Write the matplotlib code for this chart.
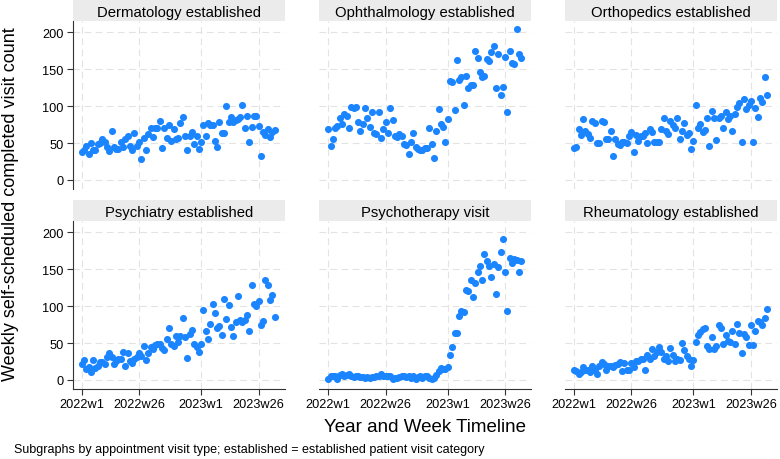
import numpy as np
import matplotlib.pyplot as plt

plt.rcParams['font.family'] = ['Liberation Sans', 'DejaVu Sans']

# weekly counts, 2022w1 .. 2023w33 (Stata weekly index 0..84)
dermatology = [38, 41, 46, 35, 50, 41, 41, 49, 50, 55, 51, 44, 39, 67, 44, 42, 42, 52, 44, 55,
               59, 46, 41, 64, 46, 52, 29, 57, 40, 62, 71, 58, 71, 70, 80, 43, 71, 57, 74, 53,
               69, 56, 57, 77, 85, 60, 40, 60, 65, 49, 60, 42, 52, 75, 60, 77, 75, 74, 53, 45,
               79, 63, 63, 100, 79, 85, 78, 81, 83, 85, 102, 71, 86, 52, 72, 86, 86, 73, 32, 65,
               61, 69, 58, 65, 68]
ophthalmology = [69, 46, 56, 70, 73, 84, 76, 89, 87, 71, 99, 98, 99, 78, 66, 76, 97, 84, 72, 92,
                 63, 62, 92, 57, 69, 78, 64, 97, 81, 60, 58, 62, 60, 49, 47, 35, 51, 64, 45, 42,
                 40, 40, 43, 43, 71, 49, 30, 67, 96, 76, 72, 52, 83, 134, 133, 95, 163, 136, 139, 102,
                 141, 124, 129, 129, 174, 165, 146, 139, 141, 164, 161, 173, 182, 125, 171, 115, 126, 167, 92, 174,
                 159, 157, 204, 171, 165]
orthopedics = [43, 45, 69, 61, 83, 67, 62, 57, 80, 77, 50, 50, 80, 78, 56, 56, 67, 33, 56, 49,
               47, 51, 52, 50, 59, 65, 38, 61, 53, 60, 60, 64, 50, 69, 65, 52, 52, 52, 69, 84,
               67, 62, 80, 74, 71, 84, 56, 67, 77, 61, 63, 42, 53, 102, 71, 76, 65, 68, 84, 46,
               94, 84, 54, 84, 87, 70, 92, 83, 87, 67, 89, 99, 104, 51, 109, 96, 101, 107, 52, 97,
               85, 111, 105, 139, 115]
psychiatry = [22, 27, 15, 17, 11, 27, 16, 19, 24, 24, 21, 31, 36, 31, 22, 26, 29, 29, 38, 19,
              36, 26, 23, 29, 31, 37, 33, 46, 27, 36, 45, 42, 47, 49, 49, 43, 40, 55, 71, 49,
              46, 60, 51, 60, 84, 58, 30, 62, 68, 49, 44, 38, 49, 95, 66, 56, 76, 103, 91, 71,
              73, 61, 109, 82, 101, 72, 60, 79, 114, 81, 78, 81, 88, 67, 129, 103, 100, 107, 75, 80,
              136, 129, 108, 115, 85]
psychotherapy = [1, 5, 5, 5, 2, 7, 8, 5, 7, 8, 5, 4, 5, 6, 4, 4, 3, 4, 3, 4,
                 4, 5, 6, 8, 6, 6, 6, 5, 2, 3, 3, 4, 5, 5, 4, 5, 3, 5, 2, 4,
                 5, 3, 5, 6, 3, 2, 3, 7, 12, 16, 15, 15, 18, 34, 44, 63, 64, 87, 93, 92,
                 122, 121, 135, 112, 132, 146, 155, 135, 170, 161, 154, 139, 157, 116, 153, 173, 191, 146, 94, 165,
                 158, 164, 162, 146, 161]
rheumatology = [13, 12, 8, 11, 18, 14, 13, 11, 19, 13, 8, 19, 25, 21, 14, 19, 19, 18, 20, 21,
                24, 12, 23, 13, 13, 23, 18, 26, 26, 28, 28, 14, 34, 28, 42, 33, 38, 45, 38, 29,
                33, 26, 43, 34, 26, 28, 27, 50, 40, 33, 28, 19, 27, 51, 61, 65, 69, 70, 46, 42,
                58, 42, 46, 75, 71, 49, 61, 53, 51, 67, 49, 76, 64, 36, 62, 58, 47, 75, 47, 66,
                80, 78, 75, 84, 96]

titles = ['Dermatology established', 'Ophthalmology established', 'Orthopedics established',
          'Psychiatry established', 'Psychotherapy visit', 'Rheumatology established']
series = [dermatology, ophthalmology, orthopedics, psychiatry, psychotherapy, rheumatology]
week_ticks = [0, 25, 52, 77]
week_labels = ['2022w1', '2022w26', '2023w1', '2023w26']
y_ticks = [0, 50, 100, 150, 200]

W, H = 780, 460
fig = plt.figure(figsize=(W / 100, H / 100), dpi=100)

col_left = [72.7, 319.3, 565]
row_top = [22, 222]
pw, ph, hh = 212, 168, 21

for k, (title, vals) in enumerate(zip(titles, series)):
    r, c = divmod(k, 3)
    x0, y0 = col_left[c], row_top[r]
    ax = fig.add_axes([x0 / W, 1 - (y0 + ph) / H, pw / W, ph / H])
    ax.scatter(np.arange(len(vals)), vals, s=26, color='#1a85ff', linewidths=0, zorder=3)
    ax.set_xlim(-3.9, 88.4)
    ax.set_ylim(-12.2, 215.3)
    ax.set_xticks(week_ticks)
    ax.set_yticks(y_ticks)
    ax.grid(True, color='#e3e3e3', linestyle=(0, (6, 4)), linewidth=0.8, zorder=0)
    for s in ax.spines.values():
        s.set_visible(False)
    ax.tick_params(length=4.5, width=0.8, color='#333333', labelsize=9.2, pad=2)
    if c == 0:
        ax.spines['left'].set_visible(True)
        ax.spines['left'].set_color('#333333')
        ax.spines['left'].set_linewidth(0.8)
    else:
        ax.tick_params(left=False, labelleft=False)
    if r == 1:
        ax.spines['bottom'].set_visible(True)
        ax.spines['bottom'].set_color('#333333')
        ax.spines['bottom'].set_linewidth(0.8)
        ax.set_xticklabels(week_labels)
    else:
        ax.tick_params(bottom=False, labelbottom=False)

    hax = fig.add_axes([x0 / W, 1 - y0 / H, pw / W, hh / H])
    hax.set_facecolor('#ebebeb')
    hax.set_xticks([])
    hax.set_yticks([])
    for s in hax.spines.values():
        s.set_visible(False)
    hax.text(0.5, 0.45, title, ha='center', va='center', fontsize=10.7, transform=hax.transAxes)

fig.text(11 / W, 1 - 204 / H, 'Weekly self-scheduled completed visit count', rotation=90,
         ha='center', va='center', fontsize=13)
fig.text(425 / W, 1 - 428 / H, 'Year and Week Timeline', ha='center', va='center', fontsize=13.5)
fig.text(14 / W, 1 - 450 / H, 'Subgraphs by appointment visit type; established = established patient visit category',
         ha='left', va='center', fontsize=9)

fig.savefig('out.png', dpi=100)
